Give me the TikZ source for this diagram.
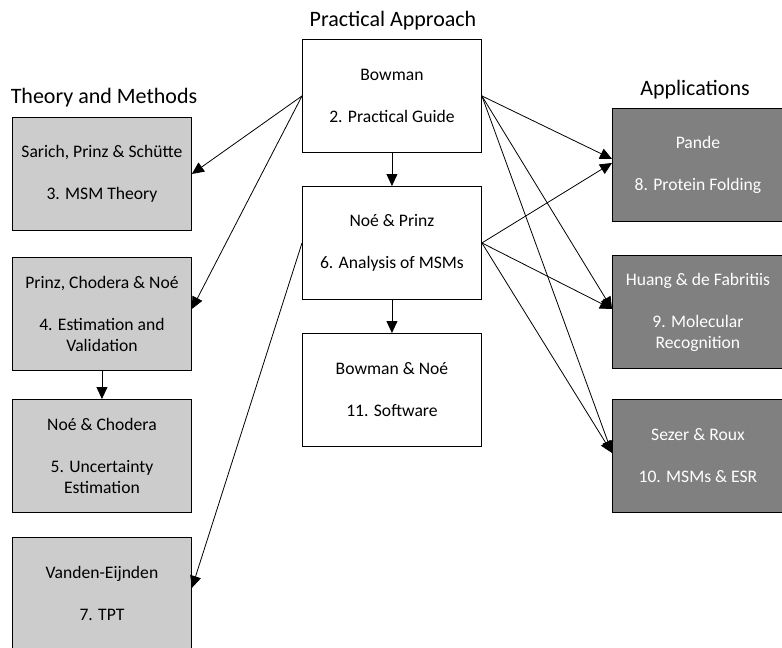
\documentclass[tikz,border=0pt]{standalone}
\usepackage{fontspec}
\setmainfont{Carlito}
\usetikzlibrary{arrows.meta}
\newcommand\mytopstrut{\rule{0pt}{19pt}}
\begin{document}
\begin{tikzpicture}[x=1pt,y=-1pt,
  box/.style={draw=black,line width=0.9pt,rectangle,anchor=north west,minimum width=179pt,minimum height=113pt,inner sep=0pt,align=center,font=\fontsize{17.6}{21}\selectfont,execute at begin node=\mytopstrut},
  light/.style={box,fill=black!20},
  plain/.style={box,fill=white},
  dark/.style={box,fill=black!50,text=white},
  title/.style={font=\fontsize{22}{26}\selectfont},
  conn/.style={line width=0.8pt,-{Triangle[length=12pt,width=11pt]}}]
\useasboundingbox (0,0) rectangle (782,648);
\clip (0,0) rectangle (782,648);
% titles
\node[title] (tpa) at (393,21) {Practical Approach};
\node[title] (ttm) at (104,98) {Theory and Methods};
\node[title] (tap) at (695,90) {Applications};
% left column
\node[light] (b3) at (12,117) {Sarich, Prinz \& Schütte\\[21pt]3. MSM Theory};
\node[light] (b4) at (12,257) {Prinz, Chodera \& Noé\\[21pt]4. Estimation and\\Validation};
\node[light] (b5) at (12,399) {Noé \& Chodera\\[21pt]5. Uncertainty\\Estimation};
\node[light] (b7) at (12,537) {Vanden-Eijnden\\[21pt]7. TPT};
% middle column
\node[plain] (b2) at (302,39) {Bowman\\[21pt]2. Practical Guide};
\node[plain] (b6) at (302,186) {Noé \& Prinz\\[21pt]6. Analysis of MSMs};
\node[plain] (b11) at (302,333) {Bowman \& Noé\\[21pt]11. Software};
% right column
\node[dark,minimum width=171pt] (b8) at (612,108) {Pande\\[21pt]8. Protein Folding};
\node[dark,minimum width=171pt] (b9) at (612,255) {Huang \& de Fabritiis\\[21pt]9. Molecular\\Recognition};
\node[dark,minimum width=171pt] (b10) at (612,399) {Sezer \& Roux\\[21pt]10. MSMs \& ESR};
% connectors
\draw[conn] (b2.west) -- (b3.east);
\draw[conn] (b2.west) -- ([yshift=5pt]b4.east);
\draw[conn] (b6.west) -- ([yshift=6pt]b7.east);
\draw[conn] (b2.south) -- (b6.north);
\draw[conn] (b6.south) -- (b11.north);
\draw[conn] (b4.south) -- (b5.north);
\draw[conn] (b2.east) -- ([yshift=6pt]b8.west);
\draw[conn] (b2.east) -- ([yshift=3pt]b9.west);
\draw[conn] (b2.east) -- ([yshift=3pt]b10.west);
\draw[conn] (b6.east) -- ([yshift=2pt]b8.west);
\draw[conn] (b6.east) -- ([yshift=3pt]b9.west);
\draw[conn] (b6.east) -- ([yshift=3pt]b10.west);
\end{tikzpicture}
\end{document}
